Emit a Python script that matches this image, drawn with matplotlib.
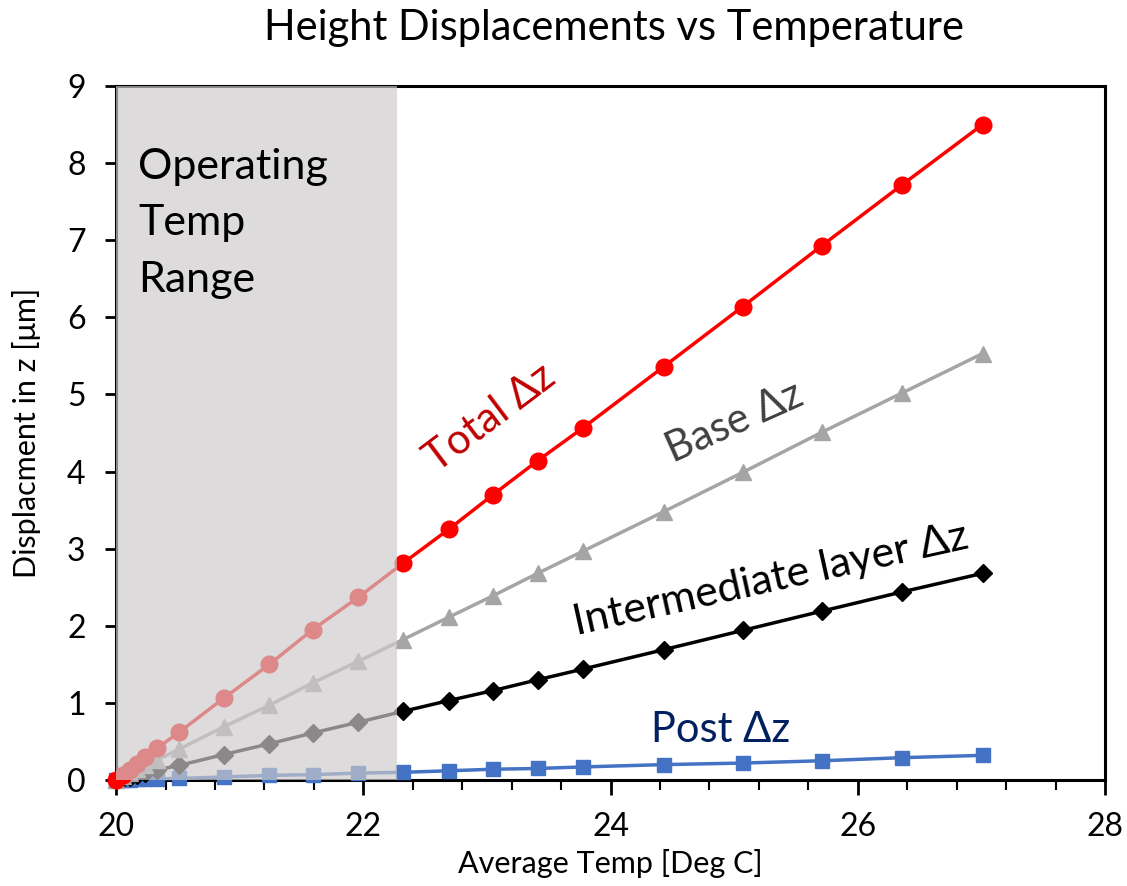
import numpy as np
import matplotlib
matplotlib.use("Agg")
import matplotlib.pyplot as plt
from matplotlib.ticker import MultipleLocator

plt.rcParams.update({
    "font.family": ["Lato", "DejaVu Sans"],
    "axes.linewidth": 2.2,
})

# average temperature (deg C) at each sample
temp = [20.0, 20.06, 20.11, 20.17, 20.23, 20.33, 20.51, 20.87, 21.24, 21.59,
        21.96, 22.32, 22.69, 23.05, 23.41, 23.78, 24.43, 25.07, 25.71, 26.36, 27.01]
total_dz = [0.0, 0.07, 0.13, 0.21, 0.30, 0.41, 0.62, 1.06, 1.50, 1.95,
            2.37, 2.81, 3.25, 3.70, 4.14, 4.57, 5.36, 6.14, 6.93, 7.72, 8.50]
base_dz = [0.0, 0.05, 0.09, 0.14, 0.19, 0.26, 0.40, 0.69, 0.97, 1.26,
           1.54, 1.82, 2.11, 2.39, 2.68, 2.97, 3.48, 3.99, 4.51, 5.02, 5.53]
inter_dz = [0.0, 0.02, 0.04, 0.07, 0.09, 0.13, 0.19, 0.33, 0.47, 0.61,
            0.75, 0.89, 1.03, 1.16, 1.30, 1.44, 1.69, 1.94, 2.19, 2.44, 2.68]
post_dz = [0.0, 0.003, 0.005, 0.008, 0.01, 0.015, 0.02, 0.04, 0.06, 0.07,
           0.09, 0.10, 0.12, 0.14, 0.15, 0.17, 0.20, 0.22, 0.25, 0.29, 0.32]
op_range = (20.0, 22.27)

fig = plt.figure(figsize=(11.27, 8.86), dpi=100)
ax = fig.add_axes([0.103, 0.1196, 0.8775, 0.7834])

ax.plot(temp, post_dz, color="#4472c4", lw=2.5, marker="s", ms=10.5, clip_on=False, zorder=3)
ax.plot(temp, inter_dz, color="black", lw=2.5, marker="D", ms=9, clip_on=False, zorder=3)
ax.plot(temp, base_dz, color="#a5a5a5", lw=2.5, marker="^", ms=12, clip_on=False, zorder=3)
ax.plot(temp, total_dz, color="red", lw=2.5, marker="o", ms=12, clip_on=False, zorder=3)

# translucent band over the operating range, drawn above the lines
ax.axvspan(*op_range, color="#cdcacb", alpha=0.68, lw=0, zorder=4)
ax.text(20.18, 8.2, "Operating\nTemp\nRange", fontsize=31, va="top", ha="left",
        linespacing=1.6, zorder=5)

ax.text(23.03, 4.7, "Total \u0394z", color="#c00000", fontsize=30, rotation=37,
        ha="center", va="center")
ax.text(25.0, 4.64, "Base \u0394z", color="#404040", fontsize=30, rotation=24,
        ha="center", va="center")
ax.text(25.3, 2.6, "Intermediate layer \u0394z", color="black", fontsize=31, rotation=12.5,
        ha="center", va="center")
ax.text(24.89, 0.65, "Post \u0394z", color="#002060", fontsize=30, ha="center", va="center")

ax.set_xlim(20, 28)
ax.set_ylim(0, 9)
ax.xaxis.set_major_locator(MultipleLocator(2))
ax.xaxis.set_minor_locator(MultipleLocator(0.4))
ax.yaxis.set_major_locator(MultipleLocator(1))
ax.tick_params(axis="both", which="major", direction="out", length=8, width=2,
               labelsize=23, pad=14)
ax.tick_params(axis="x", which="minor", direction="out", length=7, width=1.5)
ax.tick_params(axis="x", which="major", length=11, pad=12)

ax.set_xlabel("Average Temp [Deg C]", fontsize=22)
ax.xaxis.set_label_coords(0.5, -0.099)
ax.set_ylabel("Displacment in z [\u03bcm]", fontsize=22)
ax.yaxis.set_label_coords(-0.076, 0.5)
fig.suptitle("Height Displacements vs Temperature", fontsize=30, x=0.545, y=0.99)

fig.savefig("out.png", dpi=100)
